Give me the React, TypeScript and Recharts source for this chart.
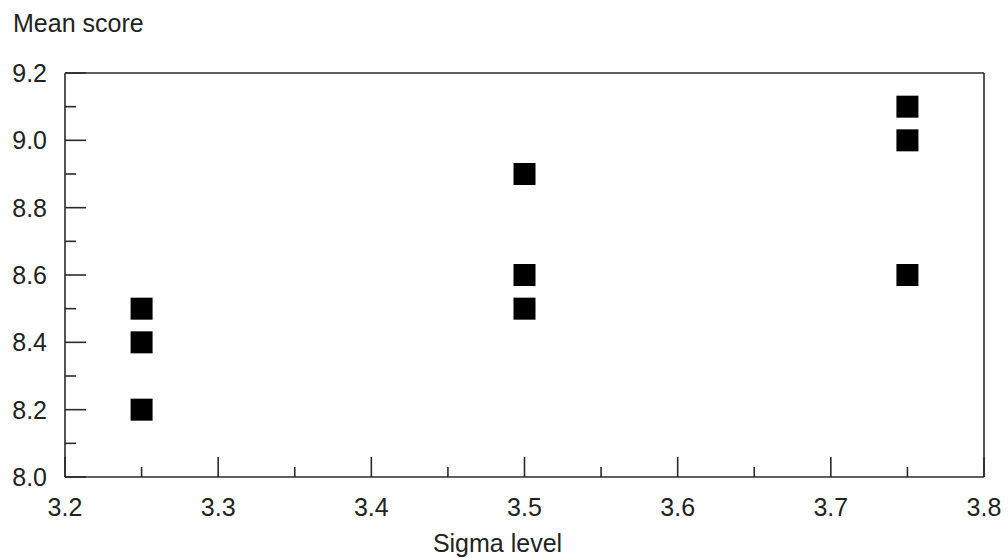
import React from 'react';
import { ScatterChart, Scatter, XAxis, YAxis, ReferenceLine } from 'recharts';

const sigmaLevels = [3.25, 3.25, 3.25, 3.5, 3.5, 3.5, 3.75, 3.75, 3.75];
const meanScores = [8.5, 8.4, 8.2, 8.9, 8.6, 8.5, 9.1, 9.0, 8.6];

const xMajorTicks = [3.2, 3.3, 3.4, 3.5, 3.6, 3.7, 3.8];
const xMinorTicks = [3.25, 3.35, 3.45, 3.55, 3.65, 3.75];
const yMajorTicks = [8.0, 8.2, 8.4, 8.6, 8.8, 9.0, 9.2];
const yMinorTicks = [8.1, 8.3, 8.5, 8.7, 8.9, 9.1];

const data = sigmaLevels.map((x, i) => ({ x, y: meanScores[i] }));

const FONT = '"Liberation Sans", Arial, sans-serif';
const INK = '#2a2a2a';
const TEXT = '#222';

const isMajor = (v: any, list: number[]) => list.some((m) => Math.abs(m - Number(v)) < 1e-6);

const XTick = (props: any) => {
  const { x, y, payload } = props;
  const major = isMajor(payload.value, xMajorTicks);
  const len = major ? 20 : 10;
  return (
    <g>
      <line x1={x} y1={y} x2={x} y2={y - len} stroke={INK} strokeWidth={1.6} />
      {major && (
        <text x={x} y={y + 39} textAnchor="middle" fontFamily={FONT} fontSize={25} fill={TEXT}>
          {Number(payload.value).toFixed(1)}
        </text>
      )}
    </g>
  );
};

const YTick = (props: any) => {
  const { x, y, payload } = props;
  const major = isMajor(payload.value, yMajorTicks);
  const len = major ? 21 : 11;
  return (
    <g>
      <path d={`M${x},${y}H${x + len}`} stroke={INK} strokeWidth={1.6} fill="none" />
      {major && (
        <text x={x - 18} y={y} dy="0.36em" textAnchor="end" fontFamily={FONT} fontSize={25} fill={TEXT}>
          {Number(payload.value).toFixed(1)}
        </text>
      )}
    </g>
  );
};

const SquareShape = (props: any) => {
  const { cx, cy } = props;
  const s = 22;
  return <rect x={cx - s / 2} y={cy - s / 2} width={s} height={s} fill="#000" />;
};

export default function App() {
  return (
    <div style={{ position: 'absolute', left: 0, top: 0, background: '#fff' }}>
      <ScatterChart width={1008} height={558} margin={{ top: 73, right: 24, bottom: 0, left: 0 }}>
        <XAxis
          type="number"
          dataKey="x"
          domain={[3.2, 3.8]}
          ticks={[...xMajorTicks, ...xMinorTicks].sort((a, b) => a - b)}
          interval={0}
          height={81}
          tickSize={0}
          tickMargin={0}
          tickLine={false}
          tick={<XTick />}
          axisLine={{ stroke: INK, strokeWidth: 1.6 }}
          allowDataOverflow
          label={{
            content: (p: any) => {
              const vb = p.viewBox;
              return (
                <text x={vb.x + vb.width / 2 - 27} y={vb.y + 75} textAnchor="middle" fontFamily={FONT} fontSize={25} fill={TEXT}>
                  Sigma level
                </text>
              );
            },
          }}
        />
        <YAxis
          type="number"
          dataKey="y"
          domain={[8.0, 9.2]}
          ticks={[...yMajorTicks, ...yMinorTicks].sort((a, b) => a - b)}
          interval={0}
          width={65}
          tickSize={0}
          tickMargin={0}
          tickLine={false}
          tick={<YTick />}
          axisLine={{ stroke: INK, strokeWidth: 1.6 }}
          allowDataOverflow
          label={{
            content: (p: any) => {
              const vb = p.viewBox;
              return (
                <text x={vb.x + 13} y={vb.y - 41} textAnchor="start" fontFamily={FONT} fontSize={25} fill={TEXT}>
                  Mean score
                </text>
              );
            },
          }}
        />
        <ReferenceLine y={9.2} stroke={INK} strokeWidth={1.6} />
        <ReferenceLine x={3.8} stroke={INK} strokeWidth={1.6} />
        <Scatter data={data} shape={<SquareShape />} isAnimationActive={false} />
      </ScatterChart>
    </div>
  );
}
